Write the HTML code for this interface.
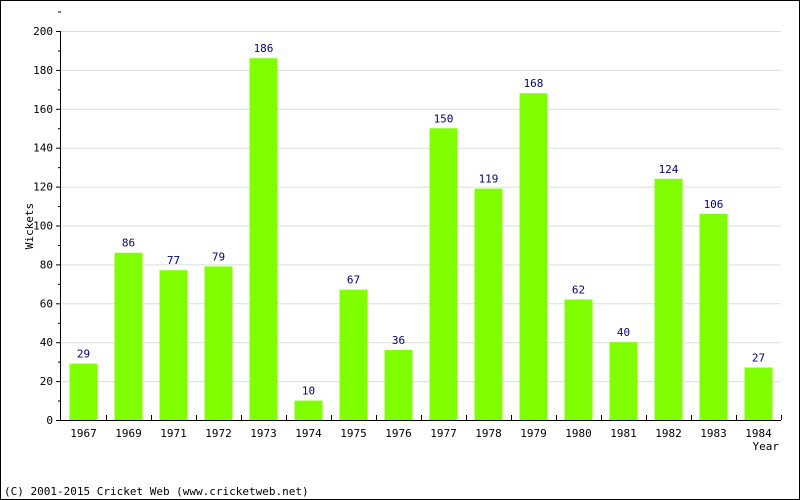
<!DOCTYPE html>
<html><head><meta charset="utf-8"><style>
body{margin:0;width:800px;height:500px;overflow:hidden;background:#fff}
svg{display:block}
text{font-family:"DejaVu Sans Mono","Liberation Mono",monospace;font-size:11px}
</style></head><body>
<svg id="chart" width="800" height="500">
<rect x="0.5" y="0.5" width="799" height="499" fill="#fff" stroke="#000"/>
<g id="grid"></g><g id="bars"></g><g id="axes"></g>
<text x="33" y="226" transform="rotate(-90 33 226)" text-anchor="middle">Wickets</text>
<text x="779" y="450" text-anchor="end">Year</text>
<text x="4" y="495">(C) 2001-2015 Cricket Web (www.cricketweb.net)</text>
</svg>
<script>
const categories=["1967","1969","1971","1972","1973","1974","1975","1976","1977","1978","1979","1980","1981","1982","1983","1984"];
const values=[29,86,77,79,186,10,67,36,150,119,168,62,40,124,106,27];
const yTicks=[0,20,40,60,80,100,120,140,160,180,200];
const NS="http://www.w3.org/2000/svg";
const X0=61,X1=781,Y0=420,Y1=31,YMAX=200;
const band=(X1-X0)/categories.length;
const y=v=>Y0-(v/YMAX)*(Y0-Y1);
const xc=i=>X0+band*i+band/2;
function mk(tag,a,p){const e=document.createElementNS(NS,tag);for(const k in a)e.setAttribute(k,a[k]);p.appendChild(e);return e;}
const grid=document.getElementById('grid'),bars=document.getElementById('bars'),axes=document.getElementById('axes');
yTicks.forEach(t=>{
 if(t>0){const g=mk('line',{x1:X0,x2:X1,y1:y(t)+.5,y2:y(t)+.5,stroke:'#ddd'},grid);
 
 }
 const tk=mk('line',{x1:X0-5,x2:X0,y1:y(t)+.5,y2:y(t)+.5,stroke:'#000'},axes);
 
 
 const m=mk('line',{x1:X0-3,x2:X0,y1:y(t+10)+.5,y2:y(t+10)+.5,stroke:'#000'},axes);
 
 
 const l=mk('text',{x:X0-8,y:y(t)+4,'text-anchor':'end'},axes);l.textContent=t;
 
 
});
categories.forEach((c,i)=>{
 const v=values[i];
 const b=mk('rect',{x:xc(i)-14,y:y(v),width:28,height:Y0-y(v),fill:'#80ff00'},bars);
 
 
 const vl=mk('text',{x:xc(i),y:y(v)-6,'text-anchor':'middle',fill:'#000080'},bars);vl.textContent=v;
 
 
 const xl=mk('text',{x:xc(i),y:Y0+17,'text-anchor':'middle'},axes);xl.textContent=c;
 
 
 const xt=mk('line',{x1:X0+band*(i+1)+.5,x2:X0+band*(i+1)+.5,y1:Y0-5,y2:Y0,stroke:'#000'},axes);
 
 
});
const ya=mk('line',{x1:X0-.5,x2:X0-.5,y1:Y1,y2:Y0,stroke:'#000'},axes);


const xa=mk('line',{x1:X0-1,x2:X1,y1:Y0+.5,y2:Y0+.5,stroke:'#000'},axes);


</script>
</body></html>
